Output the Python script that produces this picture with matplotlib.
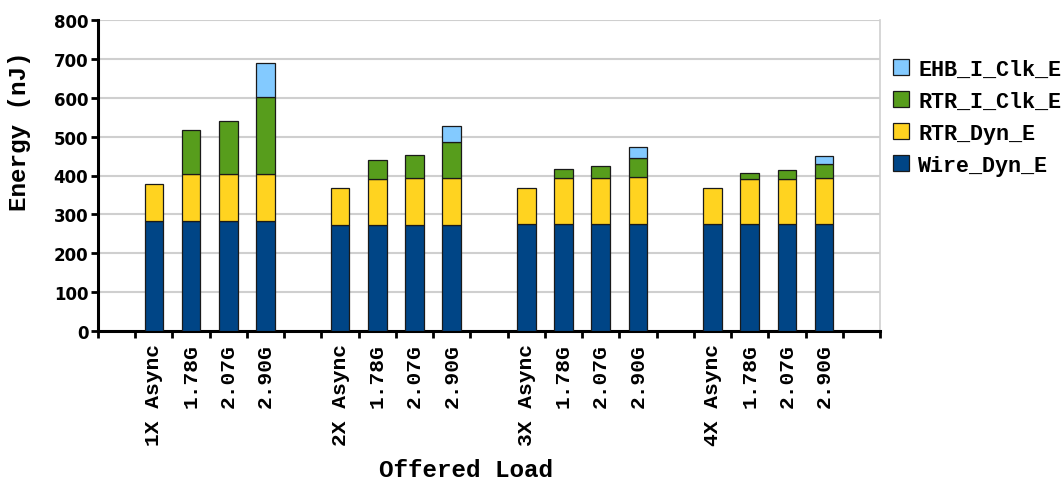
import matplotlib
matplotlib.use("Agg")
import matplotlib.pyplot as plt
from matplotlib.patches import Patch
import numpy as np

# Données (nJ)
groups = ["1X", "2X", "3X", "4X"]
loads = ["Async", "1.78G", "2.07G", "2.90G"]
wire_dyn_e = [283, 283, 283, 283, 273, 273, 273, 273, 275, 275, 275, 275, 275, 275, 275, 275]
rtr_dyn_e = [94, 121, 121, 122, 94, 118, 120, 120, 94, 118, 118, 120, 94, 115, 116, 118]
rtr_i_clk_e = [0, 113, 135, 198, 0, 49, 59, 92, 0, 25, 32, 51, 0, 17, 22, 36]
ehb_i_clk_e = [0, 0, 0, 86, 0, 0, 0, 43, 0, 0, 0, 28, 0, 0, 0, 20]

colors = {"Wire_Dyn_E": "#004586", "RTR_Dyn_E": "#ffd320",
          "RTR_I_Clk_E": "#579d1c", "EHB_I_Clk_E": "#83caff"}

mono = "Liberation Mono"

# une case vide entre chaque groupe
labels = []
positions = []
for g, grp in enumerate(groups):
    for i, ld in enumerate(loads):
        labels.append(f"{grp} {ld}" if i == 0 else ld)
        positions.append(g * 5 + i + 1 + 0.5)
positions = np.array(positions)

fig = plt.figure(figsize=(10.63, 4.81), dpi=100)
ax = fig.add_axes([98 / 1063, 1 - 332 / 481, (880 - 98) / 1063, (332 - 21) / 481])

w = np.array(wire_dyn_e)
r = np.array(rtr_dyn_e)
c = np.array(rtr_i_clk_e)
e = np.array(ehb_i_clk_e)
edge = dict(edgecolor="#1a1a1a", linewidth=0.9, width=0.5, zorder=3)
ax.bar(positions, w, color=colors["Wire_Dyn_E"], **edge)
ax.bar(positions, r, bottom=w, color=colors["RTR_Dyn_E"], **edge)
m = c > 0
ax.bar(positions[m], c[m], bottom=(w + r)[m], color=colors["RTR_I_Clk_E"], **edge)
m = e > 0
ax.bar(positions[m], e[m], bottom=(w + r + c)[m], color=colors["EHB_I_Clk_E"], **edge)

ax.set_xlim(0, 21)
ax.set_ylim(0, 800)
ax.set_yticks(range(0, 801, 100))
ax.set_yticklabels([str(v) for v in range(0, 801, 100)], fontsize=12, fontweight="bold",
                   family="DejaVu Sans")
ax.yaxis.grid(True, color="#cfcfcf", linewidth=1.5, zorder=0)
ax.set_axisbelow(True)

ax.set_xticks(positions)
ax.set_xticklabels(labels, rotation=90, family=mono, fontweight="bold", fontsize=15.3,
                   va="top", ha="center")
ax.set_xticks(np.arange(0, 22), minor=True)
ax.tick_params(axis="x", which="major", length=0, pad=9)
ax.tick_params(axis="x", which="minor", length=5, width=2, direction="out")
ax.tick_params(axis="y", length=5, width=2, direction="out", pad=2)

for s in ["left", "bottom"]:
    ax.spines[s].set_linewidth(2.2)
ax.spines["top"].set_visible(False)
ax.spines["right"].set_color("#cfcfcf")
ax.spines["right"].set_linewidth(1.2)

fig.text(20 / 1063, 1 - 131 / 481, "Energy (nJ)", rotation=90, ha="center", va="center",
         family=mono, fontweight="bold", fontsize=17.5)
fig.text(466 / 1063, 1 - 471 / 481, "Offered Load", ha="center", va="center",
         family=mono, fontweight="bold", fontsize=17.5)

handles = [Patch(facecolor=colors[k], edgecolor="#1a1a1a", linewidth=0.9)
           for k in ["EHB_I_Clk_E", "RTR_I_Clk_E", "RTR_Dyn_E", "Wire_Dyn_E"]]
fig.legend(handles, ["EHB_I_Clk_E", "RTR_I_Clk_E", "RTR_Dyn_E", "Wire_Dyn_E"],
           loc="upper left", bbox_to_anchor=(893 / 1063, 1 - 60 / 481), frameon=False,
           prop={"family": mono, "weight": "bold", "size": 15.7},
           handlelength=0.75, handleheight=0.75, handletextpad=0.4, labelspacing=0.5,
           borderaxespad=0, borderpad=0)

fig.savefig("out.png", dpi=100)
